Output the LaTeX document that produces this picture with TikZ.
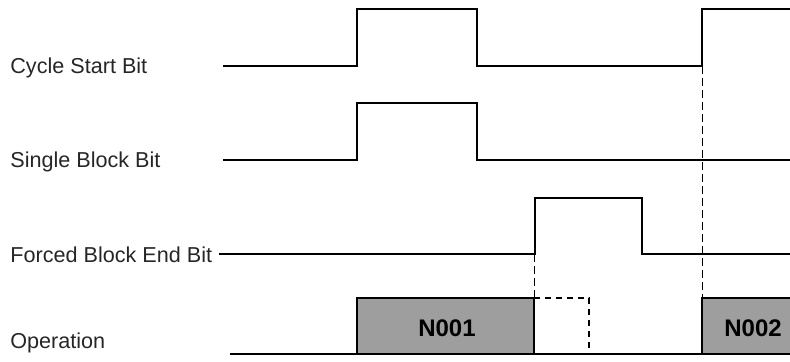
\documentclass[tikz,border=0pt]{standalone}
\usepackage{fontspec}
\setmainfont{Liberation Sans}
\begin{document}
\begin{tikzpicture}[x=0.5pt,y=-0.5pt,
  lbl/.style={anchor=base west,inner sep=0pt,text=black!85,font=\fontsize{10.8}{12}\selectfont},
  blk/.style={inner sep=0pt,font=\fontsize{12}{13}\selectfont\bfseries},
  sig/.style={line width=1pt,line join=miter},
  guide/.style={line width=0.5pt,dash pattern=on 4pt off 2pt},
  ghost/.style={line width=1pt,dash pattern=on 3pt off 2.5pt},
  busy/.style={draw,line width=1pt,fill=black!38}]
\useasboundingbox (0,0) rectangle (790,361);
% labels
\node[lbl] (l1) at (10,73) {Cycle Start Bit};
\node[lbl] (l2) at (10,167) {Single Block Bit};
\node[lbl] (l3) at (10,262) {Forced Block End Bit};
\node[lbl] (l4) at (10,348) {Operation};
% guides (drawn first)
\draw[guide] (534,254) -- (534,298);
\draw[guide] (702,66) -- (702,298);
% busy boxes
\draw[busy] (357,354) rectangle (534,298);
\node[blk] (n1) at (447,328) {N001};
\draw[busy] (702,354) -- (702,298) -- (791,298) -- (791,354);
\node[blk] (n2) at (753,328) {N002};
\draw[ghost] (534,298) -- (589,298) -- (589,354);
% signals
\draw[sig] (223,66) -- (357,66) -- (357,9) -- (477,9) -- (477,66) -- (702,66) -- (702,9) -- (791,9);
\draw[sig] (223,160) -- (357,160) -- (357,103) -- (477,103) -- (477,160) -- (791,160);
\draw[sig] (219,254) -- (535,254) -- (535,198) -- (642,198) -- (642,254) -- (791,254);
\draw[sig] (230,354) -- (791,354);
\end{tikzpicture}
\end{document}
